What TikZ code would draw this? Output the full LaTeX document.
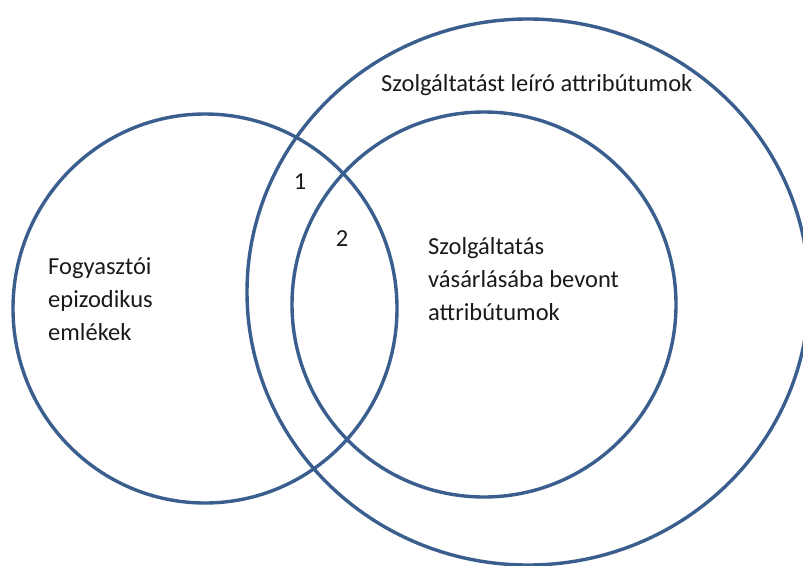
\documentclass[tikz,border=0pt]{standalone}
\usepackage{fontspec}
\setmainfont{Carlito}
\definecolor{ring}{HTML}{3A5F8E}
\definecolor{ink}{HTML}{1A1A1A}
\begin{document}
\begin{tikzpicture}[x=1pt,y=-1pt,
  ringline/.style={draw=ring,line width=3.4pt},
  lbl/.style={inner sep=0pt,text=ink,font=\fontsize{24.5}{33}\selectfont,align=left},
  num/.style={inner sep=0pt,text=ink,font=\fontsize{24.5}{28}\selectfont}]
\useasboundingbox (0,0) rectangle (803,565);
\clip (0,0) rectangle (803,565);
\fill[white] (0,0) rectangle (803,565);
% circles
\path[ringline] (205,308.5) ellipse [x radius=192,y radius=194.5];
\path[ringline] (528,292) ellipse [x radius=281,y radius=273];
\path[ringline] (484,304.5) ellipse [x radius=192,y radius=192.5];
% labels (base anchor sits on the last line)
\node[lbl,anchor=base west] (outer) at (381,91) {Szolgáltatást leíró attribútumok};
\node[lbl,anchor=base west] (inner) at (428,320) {Szolgáltatás\\vásárlásába bevont\\attribútumok};
\node[lbl,anchor=base west] (left) at (48,340) {Fogyasztói\\epizodikus\\emlékek};
\node[num,anchor=base] (one) at (300,189) {1};
\node[num,anchor=base] (two) at (342,246) {2};
\end{tikzpicture}
\end{document}
